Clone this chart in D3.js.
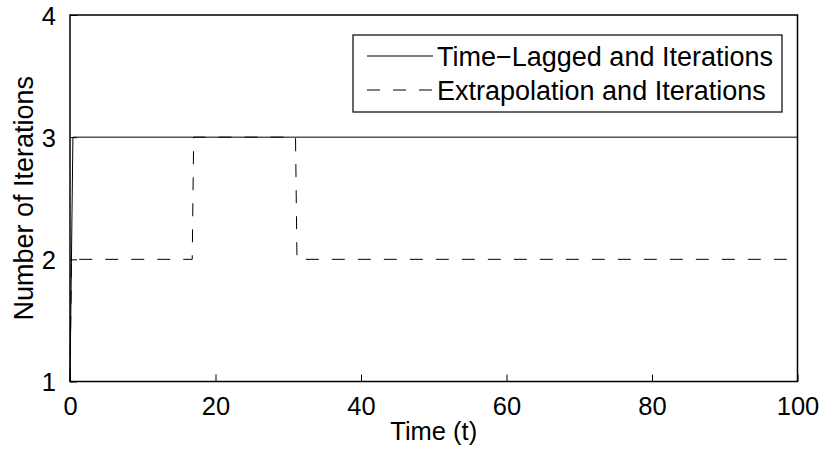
<!DOCTYPE html>
<html>
<head>
<meta charset="utf-8">
<script src="https://cdn.jsdelivr.net/npm/d3@7"></script>
<style>
  html, body { margin: 0; padding: 0; background: #fff; }
  svg { display: block; font-family: "Liberation Sans", Arial, Helvetica, sans-serif; }
</style>
</head>
<body>
<svg id="chart" width="822" height="453"></svg>
<script>
// Iteration counts per time step (breakpoints of each piecewise series)
const lagTime  = [0, 0.4, 100];
const lagIters = [1, 3, 3];
const extTime  = [0, 0.2, 16.8, 17, 31, 31.2, 100];
const extIters = [1, 2, 2, 3, 3, 2, 2];

const xTicks = [0, 20, 40, 60, 80, 100];
const yTicks = [1, 2, 3, 4];
const seriesNames = ["Time\u2212Lagged and Iterations", "Extrapolation and Iterations"];

const svg = d3.select("#chart");
const m = { left: 70, top: 15, right: 797.5, bottom: 381.5 };

const x = d3.scaleLinear().domain([0, 100]).range([m.left, m.right]);
const y = d3.scaleLinear().domain([1, 4]).range([m.bottom, m.top]);

const tickFont = 25.5;
const labelFont = 27;
const dash = "13,13";

// Axes with inward ticks
const xAxis = d3.axisBottom(x).tickValues(xTicks).tickFormat(d3.format("d"))
  .tickSizeInner(-7).tickSizeOuter(0).tickPadding(15);
const yAxis = d3.axisLeft(y).tickValues(yTicks).tickFormat(d3.format("d"))
  .tickSizeInner(-7).tickSizeOuter(0).tickPadding(14);

const gx = svg.append("g").attr("transform", `translate(0,${m.bottom})`).call(xAxis);
const gy = svg.append("g").attr("transform", `translate(${m.left},0)`).call(yAxis);
[gx, gy].forEach(g => {
  g.select(".domain").remove();
  g.selectAll(".tick line").attr("stroke", "#000").attr("stroke-width", 1);
  g.selectAll(".tick text").attr("fill", "#000").attr("font-size", tickFont)
    .attr("font-family", "Liberation Sans, Arial, sans-serif");
});
gy.selectAll(".tick text").attr("dy", "0.36em");

// Series lines
const line = d3.line().x(d => x(d[0])).y(d => y(d[1]));
const lagData = lagTime.map((t, i) => [t, lagIters[i]]);
const extData = extTime.map((t, i) => [t, extIters[i]]);

svg.append("path").datum(extData).attr("d", line)
  .attr("fill", "none").attr("stroke", "#000").attr("stroke-width", 1)
  .attr("stroke-dasharray", dash);
svg.append("path").datum(lagData).attr("d", line)
  .attr("fill", "none").attr("stroke", "#000").attr("stroke-width", 1);

// Plot frame
svg.append("rect")
  .attr("x", m.left).attr("y", m.top)
  .attr("width", m.right - m.left).attr("height", m.bottom - m.top)
  .attr("fill", "none").attr("stroke", "#000").attr("stroke-width", 1.5);

// Axis titles
svg.append("text")
  .attr("x", (m.left + m.right) / 2).attr("y", 440)
  .attr("text-anchor", "middle").attr("font-size", tickFont).attr("fill", "#000")
  .text("Time (t)");
svg.append("text")
  .attr("transform", `translate(33,${(m.top + m.bottom) / 2}) rotate(-90)`)
  .attr("text-anchor", "middle").attr("font-size", labelFont).attr("fill", "#000")
  .text("Number of Iterations");

// Legend
const lg = svg.append("g");
lg.append("rect")
  .attr("x", 353).attr("y", 35).attr("width", 429).attr("height", 77)
  .attr("fill", "#fff").attr("stroke", "#000").attr("stroke-width", 1.2);
const legendRows = [
  { name: seriesNames[0], dash: null, cy: 56 },
  { name: seriesNames[1], dash: dash, cy: 90 }
];
legendRows.forEach(r => {
  lg.append("line")
    .attr("x1", 367).attr("x2", 433).attr("y1", r.cy).attr("y2", r.cy)
    .attr("stroke", "#000").attr("stroke-width", 1)
    .attr("stroke-dasharray", r.dash);
  lg.append("text")
    .attr("x", 437).attr("y", r.cy + 9.5)
    .attr("font-size", labelFont).attr("fill", "#000")
    .text(r.name);
});
</script>
</body>
</html>
